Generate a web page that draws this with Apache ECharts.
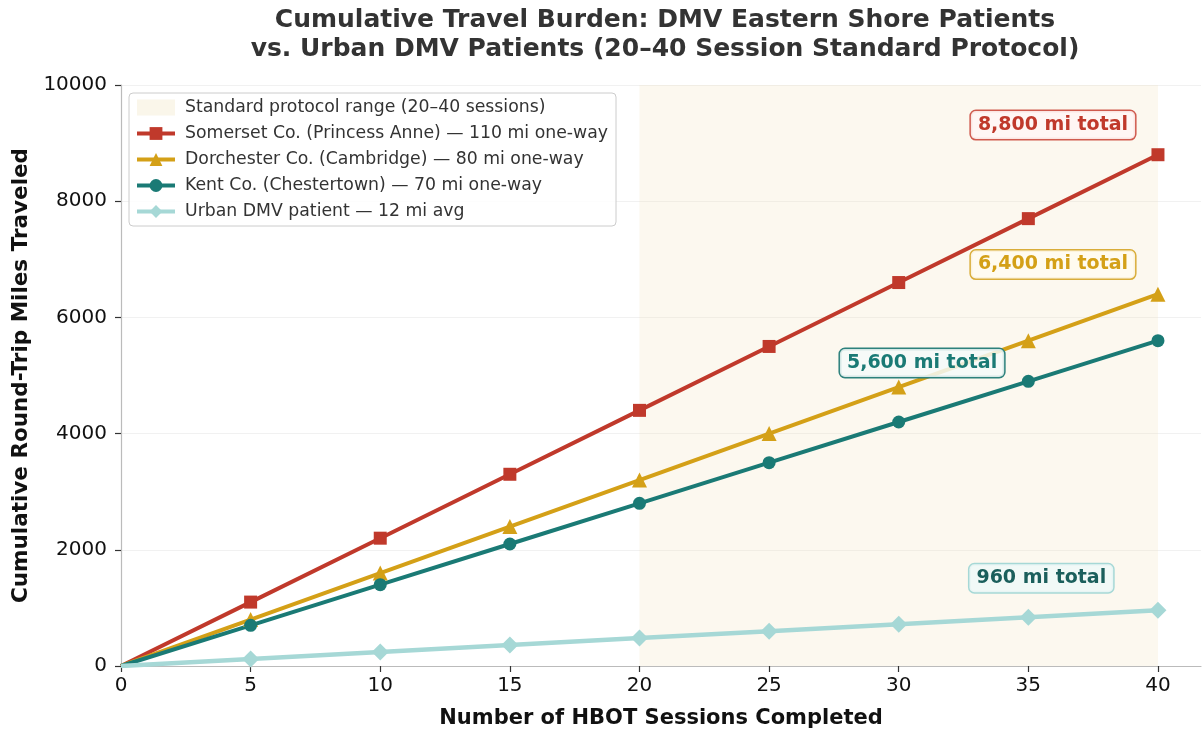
<!DOCTYPE html>
<html>
<head>
<meta charset="utf-8">
<script src="https://cdn.jsdelivr.net/npm/echarts@6/dist/echarts.min.js"></script>
<style>
  html, body { margin: 0; padding: 0; background: #ffffff; }
  #chart { width: 1203px; height: 734px; }
</style>
</head>
<body>
<div id="chart"></div>
<script>
// Sessions completed (x) and cumulative round-trip miles for each patient group
const sessions   = [0, 5, 10, 15, 20, 25, 30, 35, 40];
const somerset   = [0, 1100, 2200, 3300, 4400, 5500, 6600, 7700, 8800];
const dorchester = [0, 800, 1600, 2400, 3200, 4000, 4800, 5600, 6400];
const kent       = [0, 700, 1400, 2100, 2800, 3500, 4200, 4900, 5600];
const urban      = [0, 120, 240, 360, 480, 600, 720, 840, 960];

const xTicks = [0, 5, 10, 15, 20, 25, 30, 35, 40];
const protocolRange = [20, 40];

const seriesNames = [
  'Somerset Co. (Princess Anne) — 110 mi one-way',
  'Dorchester Co. (Cambridge) — 80 mi one-way',
  'Kent Co. (Chestertown) — 70 mi one-way',
  'Urban DMV patient — 12 mi avg'
];
const rangeName = 'Standard protocol range (20–40 sessions)';

// Where each "total" call-out box sits, in data coordinates
const calloutPos = [[35.95, 9310], [35.95, 6910], [30.9, 5215], [35.5, 1510]];

const FONT = 'DejaVu Sans';

function pairs(ys) {
  return sessions.map((x, i) => (i === 0 ? { value: [x, ys[i]], symbol: 'none' } : [x, ys[i]]));
}

function callout(ys, pos, textColor, bg, border) {
  const total = ys[ys.length - 1];
  return {
    silent: true,
    symbol: 'circle',
    symbolSize: 1,
    itemStyle: { color: 'rgba(0,0,0,0)' },
    data: [{
      coord: pos,
      label: {
        show: true,
        position: 'inside',
        formatter: total.toLocaleString('en-US') + ' mi total',
        fontFamily: FONT,
        fontSize: 19,
        fontWeight: 'bold',
        color: textColor,
        backgroundColor: bg,
        borderColor: border,
        borderWidth: 1.5,
        borderRadius: 5,
        padding: [5, 7, 4, 7]
      }
    }]
  };
}

function lineSeries(name, ys, color, symbol, size, width, co) {
  return {
    name: name,
    type: 'line',
    data: pairs(ys),
    symbol: symbol,
    symbolSize: size,
    showAllSymbol: true,
    lineStyle: { color: color, width: width },
    itemStyle: { color: color },
    emphasis: { disabled: true },
    markPoint: co
  };
}

const chart = echarts.init(document.getElementById('chart'), null, { renderer: 'canvas' });

chart.setOption({
  animation: false,
  backgroundColor: '#ffffff',
  textStyle: { fontFamily: FONT },
  title: {
    text: 'Cumulative Travel Burden: DMV Eastern Shore Patients\nvs. Urban DMV Patients (20–40 Session Standard Protocol)',
    left: 665,
    top: 6,
    padding: 0,
    textAlign: 'center',
    textStyle: { fontFamily: FONT, fontSize: 25, fontWeight: 'bold', color: '#333333', lineHeight: 29 }
  },
  legend: {
    orient: 'vertical',
    left: 129,
    top: 93,
    padding: [6, 8, 6, 6],
    itemGap: 9,
    itemWidth: 38,
    itemHeight: 16,
    backgroundColor: 'rgba(255,255,255,0.85)',
    borderColor: '#cccccc',
    borderWidth: 1,
    borderRadius: 4,
    lineStyle: { width: 4 },
    textStyle: { fontFamily: FONT, fontSize: 17.3, color: '#333333', padding: [0, 0, 0, 5] },
    selectedMode: false,
    data: [
      { name: rangeName, icon: 'rect', itemStyle: { color: '#faf6ea' } },
      seriesNames[0], seriesNames[1], seriesNames[2], seriesNames[3]
    ]
  },
  grid: { left: 121, right: 2, top: 85, bottom: 66, containLabel: false },
  xAxis: {
    type: 'value',
    min: 0,
    max: 41.66,
    interval: 5,
    name: 'Number of HBOT Sessions Completed',
    nameLocation: 'middle',
    nameGap: 42,
    nameTextStyle: { fontFamily: FONT, fontSize: 21, fontWeight: 'bold', color: '#111111' },
    axisLine: { show: true, lineStyle: { color: '#bbbbbb', width: 1.2 } },
    axisTick: { show: true, length: 6, customValues: xTicks, lineStyle: { color: '#333333', width: 1.2 } },
    axisLabel: { customValues: xTicks, fontFamily: FONT, fontSize: 20, color: '#111111', margin: 10 },
    splitLine: { show: false }
  },
  yAxis: {
    type: 'value',
    min: 0,
    max: 10000,
    interval: 2000,
    name: 'Cumulative Round-Trip Miles Traveled',
    nameLocation: 'middle',
    nameGap: 86,
    nameRotate: 90,
    nameTextStyle: { fontFamily: FONT, fontSize: 21.5, fontWeight: 'bold', color: '#111111' },
    axisLine: { show: true, lineStyle: { color: '#bbbbbb', width: 1.2 } },
    axisTick: { show: true, length: 6, lineStyle: { color: '#333333', width: 1.2 } },
    axisLabel: { fontFamily: FONT, fontSize: 20, color: '#111111', margin: 14, formatter: v => String(v) },
    splitLine: { show: true, lineStyle: { color: '#f1f1f1', width: 1 } }
  },
  series: [
    {
      name: rangeName,
      type: 'line',
      data: [],
      itemStyle: { color: '#faf6ea' },
      markArea: {
        silent: true,
        itemStyle: { color: 'rgba(240,225,180,0.22)' },
        data: [[{ xAxis: protocolRange[0] }, { xAxis: protocolRange[1] }]]
      }
    },
    lineSeries(seriesNames[0], somerset, '#c0392b', 'rect', 13, 4,
      callout(somerset, calloutPos[0], '#c0392b', 'rgba(255,245,244,0.9)', '#cf5a4e')),
    lineSeries(seriesNames[1], dorchester, '#d4a017', 'triangle', 15, 4,
      callout(dorchester, calloutPos[1], '#d4a017', 'rgba(255,251,240,0.9)', '#d9ad3a')),
    lineSeries(seriesNames[2], kent, '#1a7a75', 'circle', 13, 4,
      callout(kent, calloutPos[2], '#1a7a75', 'rgba(244,250,249,0.85)', '#2d817c')),
    lineSeries(seriesNames[3], urban, '#a6d8d6', 'diamond', 17, 4.5,
      callout(urban, calloutPos[3], '#1b5f5c', 'rgba(240,248,247,0.9)', '#a6d8d6'))
  ]
});
</script>
</body>
</html>
